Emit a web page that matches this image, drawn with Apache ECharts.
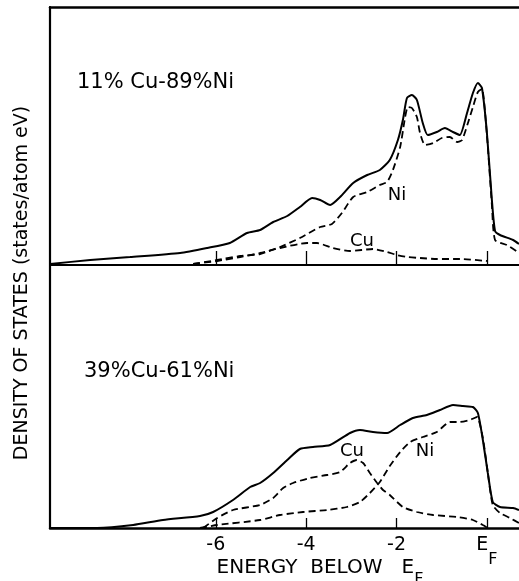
<!DOCTYPE html>
<html>
<head>
<meta charset="utf-8">
<script src="https://cdn.jsdelivr.net/npm/echarts@6/dist/echarts.min.js"></script>
<style>
html,body{margin:0;padding:0;background:#fff;}
#chart{width:519px;height:581px;}
</style>
</head>
<body>
<div id="chart"></div>
<script>
// Energy below E_F (eV) and density of states (arbitrary units)
// ---- 11% Cu - 89% Ni ----
const topTotalE   = [-9.67,-8.78,-7.90,-6.79,-6.19,-5.69,-5.31,-5.02,-4.73,-4.42,-4.14,-3.87,-3.69,-3.47,-3.25,-2.96,-2.65,-2.37,-2.15,-1.97,-1.86,-1.77,-1.66,-1.55,-1.42,-1.31,-1.11,-0.93,-0.75,-0.60,-0.44,-0.31,-0.20,-0.11,0.00,0.11,0.18,0.29,0.58,0.71];
const topTotalDOS = [0.1,0.5,0.8,1.2,1.7,2.2,3.2,3.5,4.3,4.9,5.8,6.7,6.5,6.0,6.8,8.2,9.0,9.5,10.5,12.5,14.5,16.7,17.0,16.5,14.2,13.0,13.3,13.7,13.3,13.0,15.2,17.2,18.2,17.7,13.2,6.5,3.4,3.0,2.5,2.1];
const topNiE   = [-6.50,-5.97,-5.46,-5.02,-4.58,-4.14,-3.69,-3.43,-3.21,-2.96,-2.65,-2.37,-2.21,-2.08,-1.92,-1.81,-1.75,-1.66,-1.55,-1.48,-1.37,-1.19,-1.00,-0.82,-0.66,-0.55,-0.42,-0.31,-0.20,-0.11,0.00,0.11,0.18,0.44,0.71];
const topNiDOS = [0.1,0.5,0.9,1.1,1.8,2.7,3.8,4.1,5.2,6.8,7.3,8.0,8.3,9.5,11.8,14.8,15.8,15.7,14.8,13.2,12.0,12.2,12.7,12.8,12.3,12.5,14.2,15.8,17.3,17.6,13.0,6.0,2.5,2.0,1.2];
const topCuE   = [-6.50,-5.97,-5.46,-5.02,-4.58,-3.98,-3.76,-3.41,-3.03,-2.52,-2.21,-1.99,-1.77,-1.48,-1.11,-0.60,0.00];
const topCuDOS = [0.1,0.4,0.8,1.2,1.7,2.2,2.2,1.7,1.4,1.6,1.3,1.0,0.8,0.7,0.6,0.6,0.4];
// ---- 39% Cu - 61% Ni ----
const botTotalE   = [-9.67,-8.63,-7.83,-7.17,-6.35,-6.06,-5.62,-5.24,-5.02,-4.73,-4.42,-4.14,-3.85,-3.47,-3.03,-2.81,-2.52,-2.21,-1.92,-1.64,-1.33,-1.04,-0.75,-0.53,-0.31,-0.20,-0.09,0.02,0.13,0.29,0.58,0.71];
const botTotalDOS = [0.0,0.0,0.3,0.8,1.2,1.6,2.8,4.1,4.5,5.5,6.8,7.9,8.1,8.3,9.5,9.8,9.6,9.5,10.3,11.0,11.3,11.8,12.3,12.2,12.1,11.5,8.8,5.5,2.6,2.1,2.0,1.8];
const botCuE   = [-6.28,-5.97,-5.62,-5.02,-4.73,-4.51,-4.29,-3.92,-3.54,-3.25,-3.03,-2.88,-2.74,-2.59,-2.43,-2.30,-2.15,-1.86,-1.55,-1.19,-0.66,-0.31,-0.09,0.02];
const botCuDOS = [0.0,1.0,1.8,2.3,3.0,4.0,4.5,5.0,5.3,5.6,6.5,6.8,6.5,5.5,4.5,3.8,3.3,2.1,1.6,1.3,1.1,0.8,0.3,0.0];
const botNiE   = [-6.35,-5.97,-5.02,-4.58,-4.07,-3.54,-3.10,-2.81,-2.59,-2.37,-2.15,-1.92,-1.70,-1.42,-1.11,-0.82,-0.60,-0.38,-0.22,-0.09,0.02,0.13,0.29,0.51,0.71];
const botNiDOS = [0.0,0.3,0.8,1.3,1.6,1.8,2.1,2.6,3.5,4.6,6.2,7.6,8.6,9.1,9.6,10.6,10.6,10.8,11.1,9.0,5.5,2.3,1.5,1.0,0.5];
// tick values and labels
const tickValues = [-6,-4,-2,0];
const tickLabels = {'-6':'-6','-4':'-4','-2':'-2','0':'{e|E}{s|F}'};
const panelLabels = ['11% Cu-89%Ni','39%Cu-61%Ni'];
const xTitle = '{e|ENERGY  BELOW   E}{s|F}';
const yTitle = 'DENSITY OF STATES (states/atom eV)';

const zip = (a,b) => a.map((x,i)=>[x,b[i]]);
const FONT = 'DejaVu Sans';
const X_MIN = -9.67, X_MAX = 0.71;

const chart = echarts.init(document.getElementById('chart'), null, {renderer:'canvas'});

function xAx(gi, showLabels, tickLen, lw){
  return {
    type:'value', gridIndex:gi, min:X_MIN, max:X_MAX, position:'bottom',
    axisLine:{show:true, onZero:false, lineStyle:{color:'#000', width:lw}},
    axisTick:{show:true, inside:true, length:tickLen, customValues:tickValues, lineStyle:{color:'#000', width:1.3}},
    axisLabel:{show:showLabels, customValues:tickValues, margin:8, color:'#000', fontFamily:FONT, fontSize:19,
      formatter:(v)=>tickLabels[String(Math.round(v))] || '',
      rich:{e:{fontFamily:FONT,fontSize:19,color:'#000',verticalAlign:'top',lineHeight:24},
            s:{fontFamily:FONT,fontSize:16,color:'#000',verticalAlign:'bottom',lineHeight:32}}},
    splitLine:{show:false}
  };
}
function yAx(gi, max){
  return {type:'value', gridIndex:gi, min:0, max:max, position:'left',
    axisLine:{show:true, onZero:false, lineStyle:{color:'#000', width:2.2}},
    axisTick:{show:false}, axisLabel:{show:false}, splitLine:{show:false}};
}
function line(xi, data, dashed){
  return {type:'line', xAxisIndex:xi, yAxisIndex:xi, data:data, showSymbol:false, smooth:0.2,
    lineStyle:{color:'#000', width:dashed?1.8:2, type:dashed?[7,4]:'solid'}, z:dashed?2:3, animation:false};
}

const option = {
  backgroundColor:'#fff',
  animation:false,
  grid:[
    {left:50, top:7, right:0, height:258},
    {left:50, top:265, right:0, height:263}
  ],
  xAxis:[
    xAx(0,false,14,2),
    xAx(1,true,10,2.5),
    {type:'value', gridIndex:0, position:'top', min:X_MIN, max:X_MAX,
      axisLine:{show:true, onZero:false, lineStyle:{color:'#000', width:2.5}}, axisTick:{show:false}, axisLabel:{show:false}, splitLine:{show:false}}
  ],
  yAxis:[yAx(0,25.8), yAx(1,26.3)],
  series:[
    line(0, zip(topTotalE, topTotalDOS), false),
    line(0, zip(topNiE, topNiDOS), true),
    line(0, zip(topCuE, topCuDOS), true),
    line(1, zip(botTotalE, botTotalDOS), false),
    line(1, zip(botCuE, botCuDOS), true),
    line(1, zip(botNiE, botNiDOS), true)
  ],
  graphic:[
    {type:'text', left:77, top:72, style:{text:panelLabels[0], font:'21px "DejaVu Sans"', fill:'#000'}},
    {type:'text', left:84, top:361, style:{text:panelLabels[1], font:'21px "DejaVu Sans"', fill:'#000'}},
    {type:'text', x:397, y:195, style:{text:'Ni', font:'18px "DejaVu Sans"', fill:'#000', align:'center', verticalAlign:'middle'}},
    {type:'text', x:362, y:241, style:{text:'Cu', font:'18px "DejaVu Sans"', fill:'#000', align:'center', verticalAlign:'middle'}},
    {type:'text', x:352, y:451, style:{text:'Cu', font:'18px "DejaVu Sans"', fill:'#000', align:'center', verticalAlign:'middle'}},
    {type:'text', x:425, y:451, style:{text:'Ni', font:'18px "DejaVu Sans"', fill:'#000', align:'center', verticalAlign:'middle'}},
    {type:'text', x:320, y:573, style:{text:xTitle, font:'20px "DejaVu Sans"', fill:'#000', align:'center', verticalAlign:'middle',
      rich:{e:{fontFamily:FONT,fontSize:20,fill:'#000',verticalAlign:'top',lineHeight:24},
            s:{fontFamily:FONT,fontSize:16,fill:'#000',verticalAlign:'bottom',lineHeight:30}}}},
    {type:'text', x:22, y:283, rotation:Math.PI/2, style:{text:yTitle, font:'19px "DejaVu Sans"', fill:'#000', align:'center', verticalAlign:'middle'}}
  ]
};
chart.setOption(option);
</script>
</body>
</html>
